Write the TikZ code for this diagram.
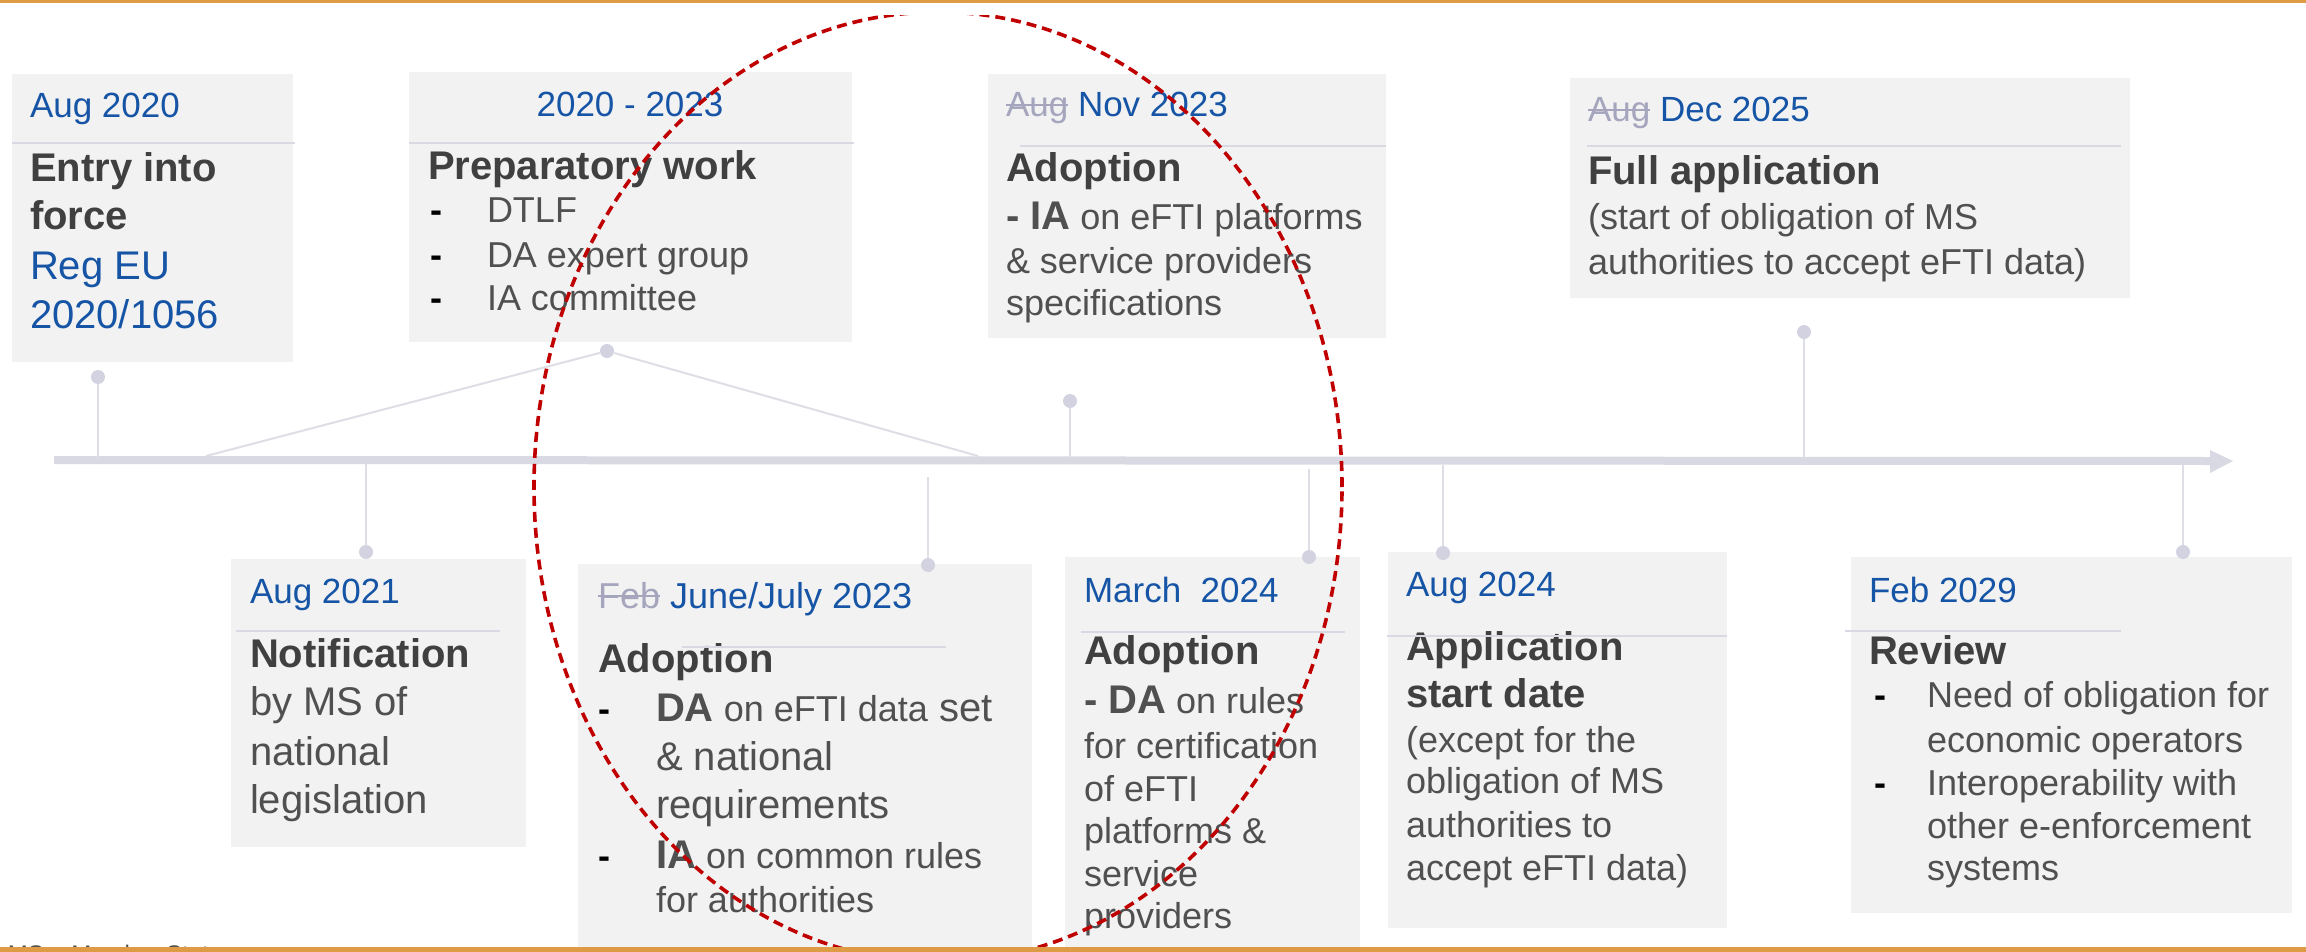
\documentclass[tikz,border=0pt]{standalone}
\usepackage{fontspec}
\setmainfont{Liberation Sans}
\definecolor{boxgray}{RGB}{242,242,242}
\definecolor{axisc}{RGB}{217,217,228}
\definecolor{tickc}{RGB}{222,222,231}
\definecolor{dotc}{RGB}{210,210,224}
\definecolor{dateblue}{RGB}{22,84,166}
\definecolor{strikec}{RGB}{165,165,190}
\definecolor{txt}{RGB}{80,80,80}
\definecolor{ttlc}{RGB}{64,64,64}
\definecolor{redc}{RGB}{192,0,0}
\definecolor{orangec}{RGB}{222,155,70}
\newcommand\strk[1]{\setbox0=\hbox{#1}\rlap{\rule[0.3em]{\wd0}{0.07em}}\box0}
\newcommand\fs[1]{\fontsize{#1}{#1}\selectfont}
\tikzset{
  lbl/.style={anchor=base west, inner sep=0pt, outer sep=0pt},
  datet/.style={lbl, font=\fs{17.5}, text=dateblue},
  ttl/.style={lbl, font=\bfseries\fs{20}, text=ttlc},
  bodyt/.style={lbl, font=\fs{18}, text=txt},
  bodyL/.style={lbl, font=\fs{20}, text=txt},
  bul/.style={lbl, font=\bfseries\fs{18}, text=black},
  evbox/.style={fill=boxgray},
  divider/.style={draw=axisc, line width=1pt},
  tickln/.style={draw=tickc, line width=1pt},
  tdot/.style={circle, fill=dotc, inner sep=0pt, minimum size=7pt},
}
\begin{document}
\begin{tikzpicture}[x=0.5pt,y=-0.5pt]
\path[use as bounding box] (0,0) rectangle (2306,952);
\fill[white] (0,0) rectangle (2306,952);
% boxes
\path[evbox] (12,74) rectangle (293,362);
\path[evbox] (409,72) rectangle (852,342);
\path[evbox] (988,74) rectangle (1386,338);
\path[evbox] (1570,78) rectangle (2130,298);
\path[evbox] (231,559) rectangle (526,847);
\path[evbox] (578,564) rectangle (1032,952);
\path[evbox] (1065,557) rectangle (1360,952);
\path[evbox] (1388,552) rectangle (1727,928);
\path[evbox] (1851,557) rectangle (2292,913);
% axis
\coordinate (axs) at (54,460);
\coordinate (axe) at (2210,461);
\fill[axisc] (54,456) -- (2210,457) -- (2210,450) -- (2233,461) -- (2210,473) -- (2210,465) -- (54,464) -- cycle;
% ticks above
\node[tdot] (d1) at (98,377) {};
\coordinate (a1) at (98,458);
\draw[tickln] (a1) -- (d1);
\node[tdot] (d3) at (1070,401) {};
\coordinate (a3) at (1070,458);
\draw[tickln] (a3) -- (d3);
\node[tdot] (d4) at (1804,332) {};
\coordinate (a4) at (1804,458);
\draw[tickln] (a4) -- (d4);
\node[tdot] (d2) at (607,351) {};
\coordinate (a2l) at (206,456);
\coordinate (a2r) at (978,456);
\draw[tickln] (a2l) -- (d2) -- (a2r);
% ticks below
\node[tdot] (d5) at (366,552) {};
\coordinate (a5) at (366,464);
\draw[tickln] (a5) -- (d5);
\node[tdot] (d6) at (928,565) {};
\coordinate (a6) at (928,477);
\draw[tickln] (a6) -- (d6);
\node[tdot] (d7) at (1309,557) {};
\coordinate (a7) at (1309,469);
\draw[tickln] (a7) -- (d7);
\node[tdot] (d8) at (1443,553) {};
\coordinate (a8) at (1443,465);
\draw[tickln] (a8) -- (d8);
\node[tdot] (d9) at (2183,552) {};
\coordinate (a9) at (2183,465);
\draw[tickln] (a9) -- (d9);
% box 1
\node[datet] (t1a) at (30,118) {Aug 2020};
\node[ttl] (t1b) at (30,182) {Entry into};
\node[ttl] (t1c) at (30,229) {force};
\node[datet, font=\fs{20}] (t1d) at (30,279) {Reg EU};
\node[datet, font=\fs{20}] (t1e) at (30,328) {2020/1056};
% box 2
\node[datet, anchor=base] (t2a) at (630,117) {2020 - 2023};
\node[ttl] (t2b) at (428,180) {Preparatory work};
\node[bul] (t2c) at (430,223) {-};
\node[bodyt] (t2d) at (487,223) {DTLF};
\node[bul] (t2e) at (430,268) {-};
\node[bodyt] (t2f) at (487,268) {DA expert group};
\node[bul] (t2g) at (430,310) {-};
\node[bodyt] (t2h) at (487,310) {IA committee};
% box 3
\node[datet] (t3a) at (1006,117) {\textcolor{strikec}{\strk{Aug}} Nov 2023};
\node[ttl] (t3b) at (1006,182) {Adoption};
\node[bodyt] (t3c) at (1006,230) {{\bfseries\fs{20}- IA} on eFTI platforms};
\node[bodyt] (t3d) at (1006,273) {\& service providers};
\node[bodyt] (t3e) at (1006,315) {specifications};
% box 4
\node[datet] (t4a) at (1588,122) {\textcolor{strikec}{\strk{Aug}} Dec 2025};
\node[ttl] (t4b) at (1588,185) {Full application};
\node[bodyt] (t4c) at (1588,229) {(start of obligation of MS};
\node[bodyt] (t4d) at (1588,275) {authorities to accept eFTI data)};
% box 5
\node[datet] (t5a) at (250,603) {Aug 2021};
\node[ttl] (t5b) at (250,667) {Notification};
\node[bodyL] (t5c) at (250,715) {by MS of};
\node[bodyL] (t5d) at (250,765) {national};
\node[bodyL] (t5e) at (250,813) {legislation};
% box 6
\node[datet, font=\fs{18}] (t6a) at (598,608) {\textcolor{strikec}{\strk{Feb}} June/July 2023};
\node[ttl] (t6b) at (598,672) {Adoption};
\node[bul] (t6c) at (598,721) {-};
\node[bodyt] (t6d) at (656,721) {{\bfseries\fs{20}DA} on eFTI data{\fs{20} set}};
\node[bodyL] (t6e) at (656,770) {\& national};
\node[bodyL] (t6f) at (656,818) {requirements};
\node[bul] (t6g) at (598,868) {-};
\node[bodyt] (t6h) at (656,868) {{\bfseries\fs{20}IA} on common rules};
\node[bodyt] (t6i) at (656,912) {for authorities};
% box 7
\node[datet] (t7a) at (1084,602) {March\ \ 2024};
\node[ttl] (t7b) at (1084,664) {Adoption};
\node[bodyt] (t7c) at (1084,713) {{\bfseries\fs{20}- DA} on rules};
\node[bodyt] (t7d) at (1084,758) {for certification};
\node[bodyt] (t7e) at (1084,801) {of eFTI};
\node[bodyt] (t7f) at (1084,843) {platforms \&};
\node[bodyt] (t7g) at (1084,886) {service};
\node[bodyt] (t7h) at (1084,928) {providers};
% box 8
\node[datet] (t8a) at (1406,596) {Aug 2024};
\node[ttl] (t8b) at (1406,660) {Application};
\node[ttl] (t8c) at (1406,707) {start date};
\node[bodyt] (t8d) at (1406,752) {(except for the};
\node[bodyt] (t8e) at (1406,793) {obligation of MS};
\node[bodyt] (t8f) at (1406,837) {authorities to};
\node[bodyt] (t8g) at (1406,880) {accept eFTI data)};
% box 9
\node[datet] (t9a) at (1869,602) {Feb 2029};
\node[ttl] (t9b) at (1869,664) {Review};
\node[bul] (t9c) at (1874,707) {-};
\node[bodyt] (t9d) at (1927,707) {Need of obligation for};
\node[bodyt] (t9e) at (1927,752) {economic operators};
\node[bul] (t9f) at (1874,795) {-};
\node[bodyt] (t9g) at (1927,795) {Interoperability with};
\node[bodyt] (t9h) at (1927,838) {other e-enforcement};
\node[bodyt] (t9i) at (1927,880) {systems};
% dividers
\draw[divider] (12,143) -- (295,143);
\draw[divider] (409,143) -- (854,143);
\draw[divider] (1020,146) -- (1386,146);
\draw[divider] (1587,146) -- (2121,146);
\draw[divider] (236,631) -- (500,631);
\draw[divider] (682,647) -- (946,647);
\draw[divider] (1081,632) -- (1345,632);
\draw[divider] (1387,636) -- (1727,636);
\draw[divider] (1845,631) -- (2121,631);
% footnote (cut off at the lower edge, as in the reference)
\begin{scope}
\clip (0,0) rectangle (2306,948);
\node[lbl, font=\fs{12}, text=txt] (fn) at (8,962) {MS = Member States};
\end{scope}
% red dashed ellipse
\begin{scope}
\clip (0,15.5) rectangle (2306,948);
\draw[redc, line width=1.8pt, dash pattern=on 5pt off 3pt] (938,487) ellipse [x radius=202pt, y radius=237.5pt];
\end{scope}
% orange bars
\fill[orangec] (0,0) rectangle (2306,3.5);
\fill[orangec] (0,947) rectangle (2306,952);
\end{tikzpicture}
\end{document}
